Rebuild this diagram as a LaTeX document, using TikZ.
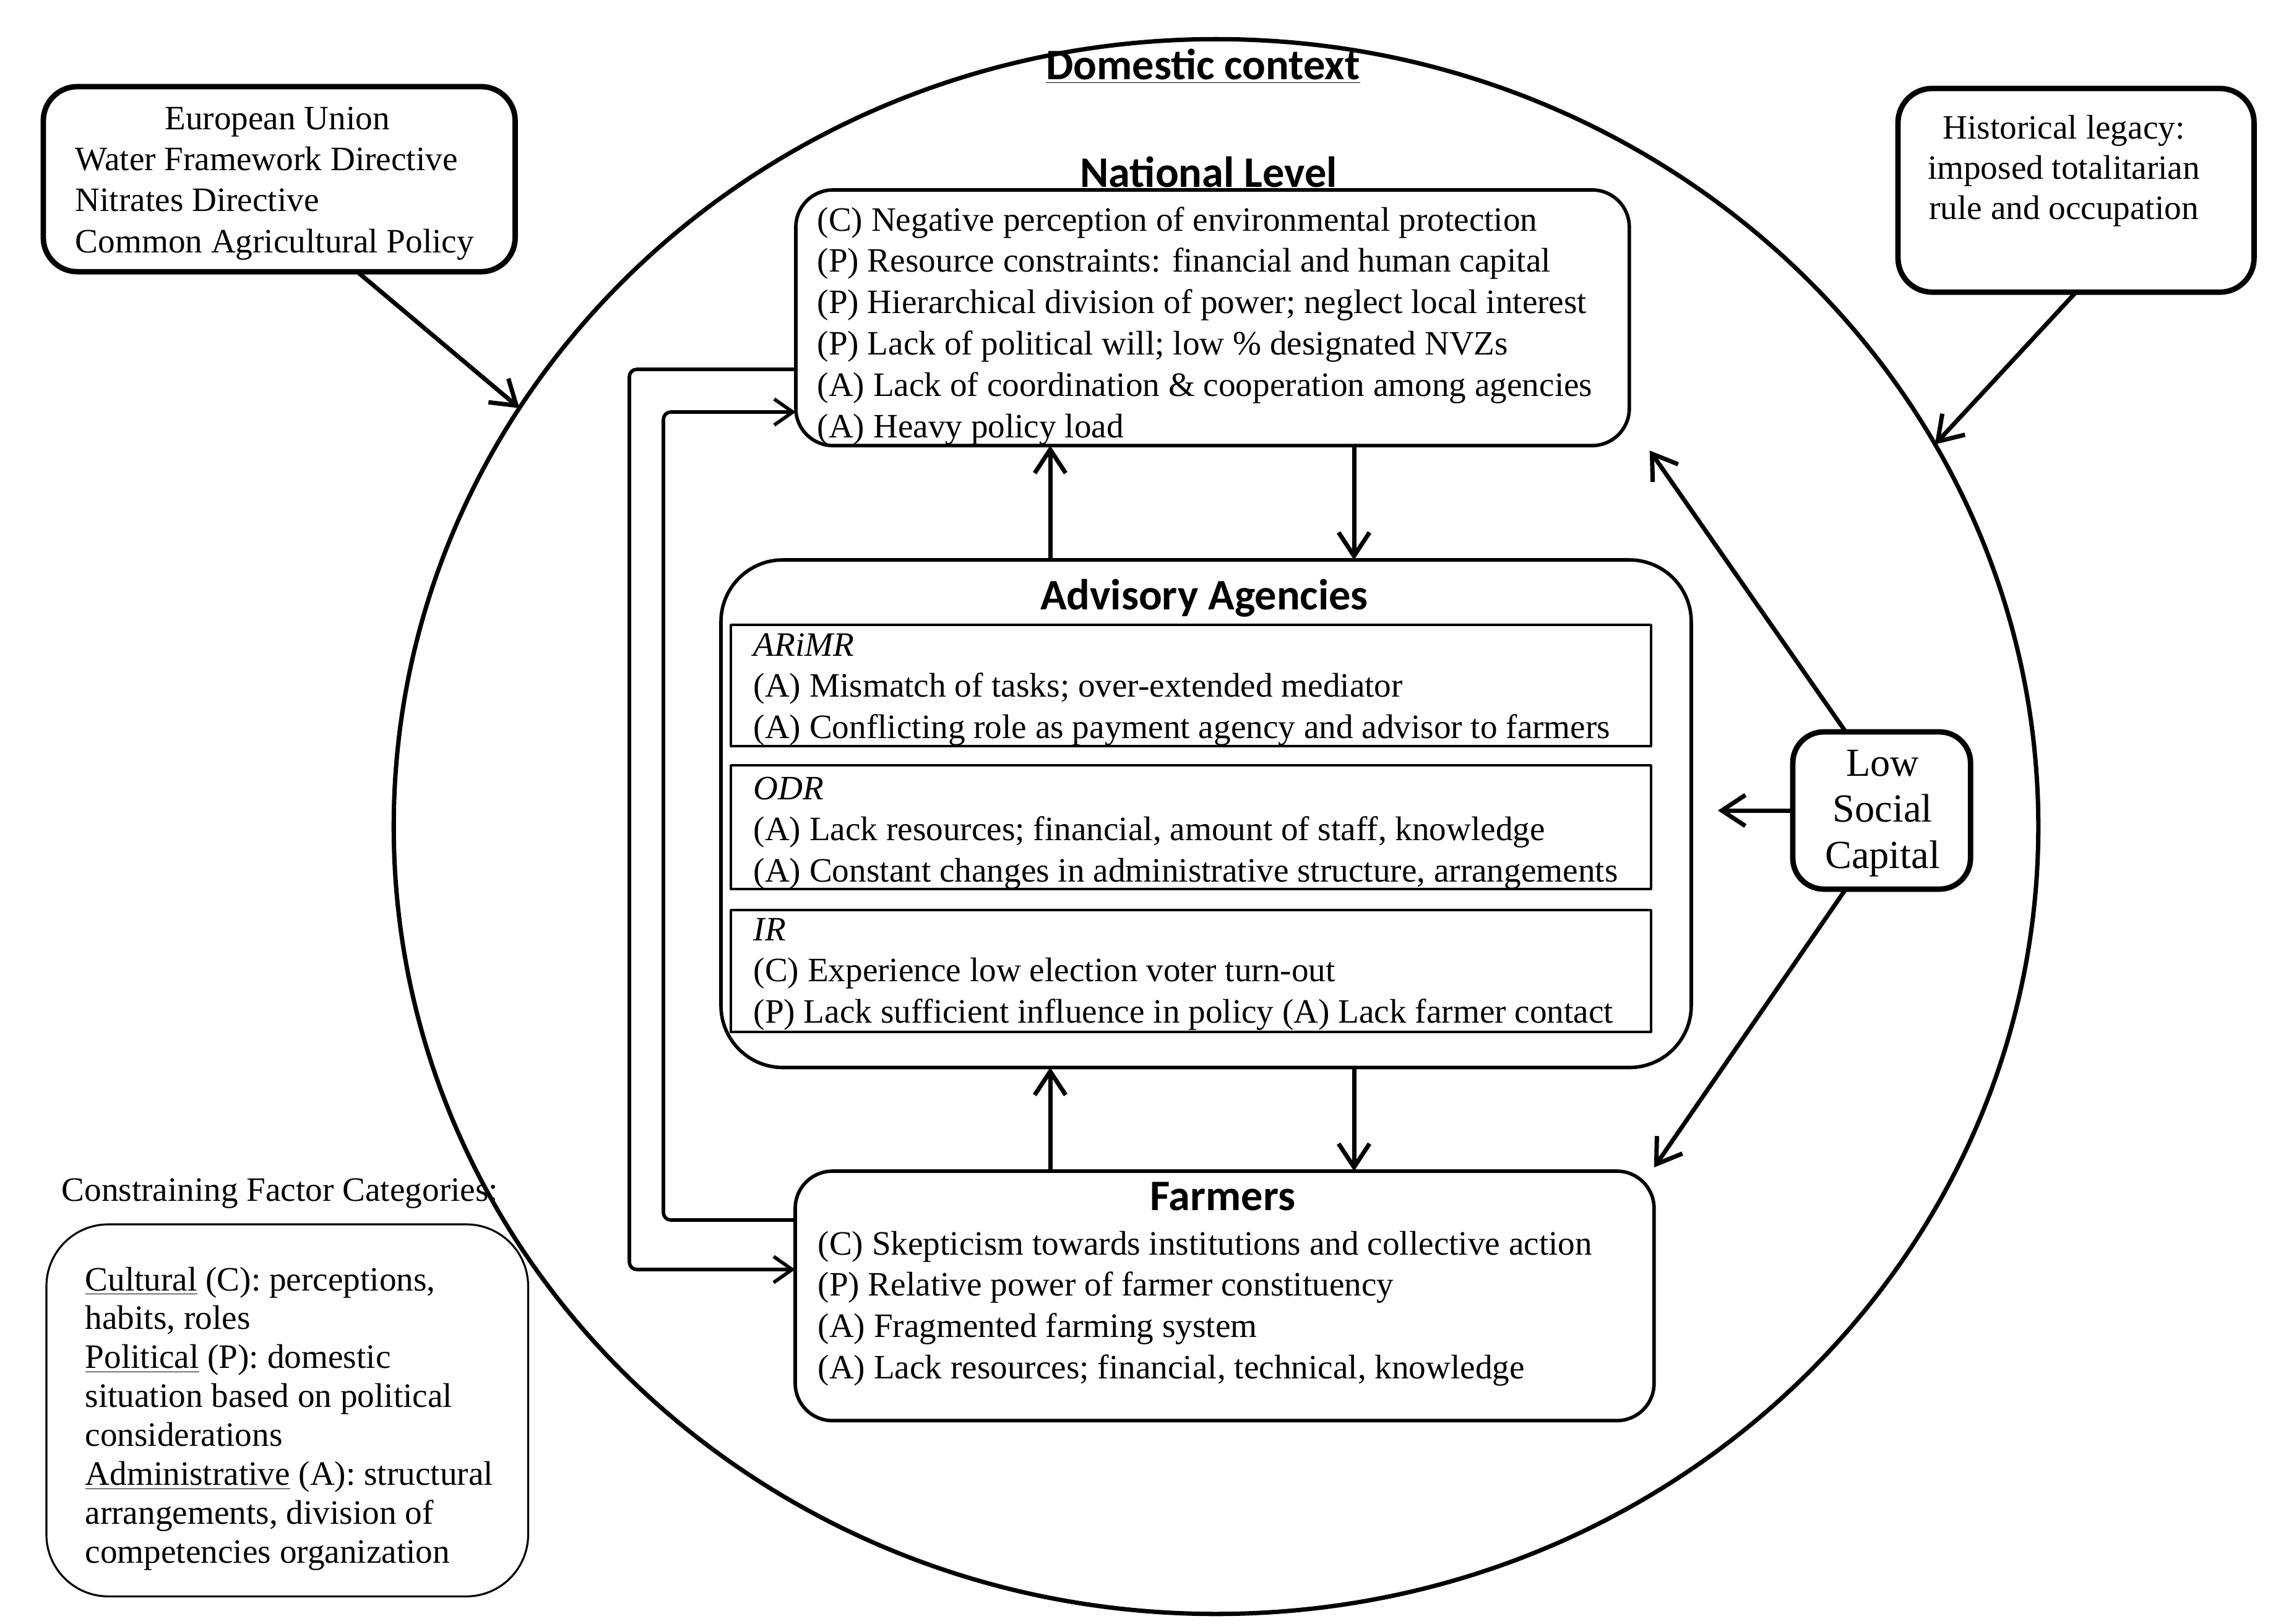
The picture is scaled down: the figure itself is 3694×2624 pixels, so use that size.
\documentclass[tikz,border=0pt]{standalone}
\usepackage{fontspec}
\setmainfont{Liberation Serif}
\newfontfamily\ttlfont{Carlito}
\usetikzlibrary{arrows.meta,shapes.geometric}
\newcommand\bodysize{\fontsize{15.7}{19}\selectfont}
\begin{document}
\begin{tikzpicture}[x=0.01cm,y=-0.01cm,line join=round]
\tikzset{
  mainbox/.style={draw, line width=1.6pt, inner sep=0pt, outer sep=0pt, anchor=north west, rounded corners=0.6cm},
  heavybox/.style={draw, line width=2.5pt, inner sep=0pt, outer sep=0pt, anchor=north west, rounded corners=0.55cm},
  subbox/.style={draw, line width=1.1pt, inner sep=0pt, outer sep=0pt, anchor=north west},
  txt/.style={inner sep=0pt, anchor=base west, font=\bodysize},
  ctxt/.style={inner sep=0pt, anchor=base, font=\bodysize},
  ttl/.style={inner sep=0pt, anchor=base, font=\ttlfont\bfseries\fontsize{20}{24}\selectfont},
  arr/.style={line width=2pt, -{Straight Barb[length=0.38cm, width=0.5cm, line width=2pt]}},
  looparr/.style={line width=1.6pt, rounded corners=0.12cm, -{Straight Barb[length=0.3cm, width=0.42cm, line width=1.6pt]}}
}
\useasboundingbox (0,0) rectangle (3694,2624);

% domestic context
\node[draw, ellipse, line width=2pt, inner sep=0pt, outer sep=0pt, minimum width=26.56cm, minimum height=25.44cm] (dom) at (1965,1336) {};
\node[ttl] (domT) at (1944,128) {\underline{Domestic context}};

% external boxes
\node[heavybox, minimum width=7.62cm, minimum height=2.99cm] (eu) at (70,140) {};
\node[ctxt] (euT1) at (448,209) {European Union};
\node[txt] (euT2) at (121,275) {\parbox[t]{7cm}{Water Framework Directive\\Nitrates Directive\\Common Agricultural Policy}};

\node[heavybox, minimum width=5.75cm, minimum height=3.29cm] (hist) at (3067,143) {};
\node[ctxt, font=\fontsize{15.7}{18.6}\selectfont] (histT) at (3335,224) {\parbox[t]{5cm}{\centering Historical legacy:\\imposed totalitarian\\rule and occupation}};

\node[heavybox, rounded corners=0.5cm, minimum width=2.87cm, minimum height=2.54cm] (lsc) at (2897,1183) {};
\node[ctxt, font=\fontsize{18.3}{21.3}\selectfont] (lscT) at (3042,1254) {\parbox[t]{2.6cm}{\centering Low\\Social\\Capital}};

% national level
\node[ttl] (natTitle) at (1953,302) {National Level};
\node[mainbox, minimum width=13.46cm, minimum height=4.13cm] (nat) at (1286,307) {};
\node[txt] (natT) at (1320,373) {\parbox[t]{13cm}{(C) Negative perception of environmental protection\\
(P) Resource constraints: financial and human capital\\
(P) Hierarchical division of power; neglect local interest\\
(P) Lack of political will; low \% designated NVZs\\
(A) Lack of coordination \& cooperation among agencies\\
(A) Heavy policy load}};

% advisory agencies
\node[mainbox, rounded corners=1.0cm, minimum width=15.67cm, minimum height=8.20cm] (adv) at (1165,905) {};
\node[ttl] (advTitle) at (1946,985) {Advisory Agencies};
\node[subbox, minimum width=14.86cm, minimum height=1.96cm] (ari) at (1181,1010) {};
\node[txt] (ariT) at (1217,1060) {\parbox[t]{14.5cm}{\textit{ARiMR}\\
(A) Mismatch of tasks; over-extended mediator\\
(A) Conflicting role as payment agency and advisor to farmers}};
\node[subbox, minimum width=14.86cm, minimum height=2.00cm] (odr) at (1181,1237) {};
\node[txt] (odrT) at (1217,1292) {\parbox[t]{14.5cm}{\textit{ODR}\\
(A) Lack resources; financial, amount of staff, knowledge\\
(A) Constant changes in administrative structure, arrangements}};
\node[subbox, minimum width=14.86cm, minimum height=1.97cm] (irb) at (1181,1471) {};
\node[txt] (irT) at (1217,1520) {\parbox[t]{14.5cm}{\textit{IR}\\
(C) Experience low election voter turn-out\\
(P) Lack sufficient influence in policy (A) Lack farmer contact}};

% farmers
\node[mainbox, minimum width=13.87cm, minimum height=4.03cm] (farm) at (1285,1893) {};
\node[ttl] (farmTitle) at (1976,1956) {Farmers};
\node[txt] (farmT) at (1321,2028) {\parbox[t]{13cm}{(C) Skepticism towards institutions and collective action\\
(P) Relative power of farmer constituency\\
(A) Fragmented farming system\\
(A) Lack resources; financial, technical, knowledge}};

% legend
\node[txt] (legTitle) at (99,1941) {Constraining Factor Categories:};
\node[draw, line width=0.9pt, inner sep=0pt, outer sep=0pt, anchor=north west, rounded corners=1.0cm, minimum width=7.78cm, minimum height=6.01cm] (leg) at (75,1979) {};
\node[txt, font=\fontsize{15.7}{17.9}\selectfont] (legT) at (137,2086) {\parbox[t]{7.2cm}{\underline{Cultural} (C): perceptions,\\
habits, roles\\
\underline{Political} (P): domestic\\
situation based on political\\
considerations\\
\underline{Administrative} (A): structural\\
arrangements, division of\\
competencies organization}};

% connectors
\coordinate (xup) at (1697,0);
\coordinate (xdn) at (2188,0);
\draw[arr] (adv.north -| xup) -- (nat.south -| xup);
\draw[arr] (nat.south -| xdn) -- (adv.north -| xdn);
\draw[arr] (farm.north -| xup) -- (adv.south -| xup);
\draw[arr] (adv.south -| xdn) -- (farm.north -| xdn);

\draw[arr] ([xshift=1.26cm]eu.south) -- (dom.149.6);
\draw[arr] (hist.south) -- (dom.28.3);

\draw[arr] ([xshift=-0.58cm]lsc.north) -- ([xshift=0.33cm,yshift=-0.08cm]nat.south east);
\draw[arr] ([xshift=-0.58cm]lsc.south) -- ([yshift=0.06cm]farm.north east);
\draw[arr] (lsc.west) -- ([xshift=0.43cm]adv.east |- lsc.west);

\coordinate (xo) at (1017,0);
\coordinate (xi) at (1072,0);
\coordinate (yo1) at (0,597);
\coordinate (yo2) at (0,2052);
\coordinate (yi1) at (0,1972);
\coordinate (yi2) at (0,666);
\draw[looparr] (nat.west |- yo1) -- (xo |- yo1) -- (xo |- yo2) -- (farm.west |- yo2);
\draw[looparr] (farm.west |- yi1) -- (xi |- yi1) -- (xi |- yi2) -- (nat.west |- yi2);
\end{tikzpicture}
\end{document}
